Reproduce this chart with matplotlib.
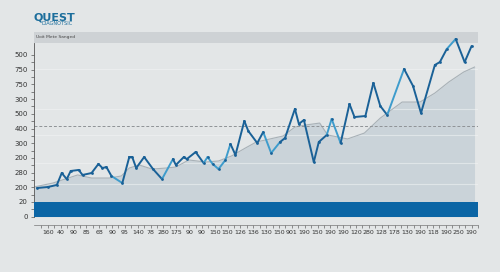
import matplotlib
matplotlib.use("Agg")
import matplotlib.pyplot as plt

# ---------------- data ----------------
x_labels = ["160", "40", "90", "85", "68", "90", "95", "140", "78", "280", "175", "90",
            "90", "150", "150", "126", "136", "130", "150", "901", "190", "150", "190",
            "190", "120", "280", "128", "178", "130", "190", "118", "190", "250", "190"]
y_labels = ["0", "20", "200", "280", "200", "300", "400", "500", "300", "750", "750", "500"]

trend_x = [-1.08, 0.39, 2.32, 3.40, 4.79, 5.72, 6.34, 7.11, 8.11, 9.20, 9.97, 10.97,
           12.29, 13.29, 14.30, 15.38, 16.23, 17.31, 18.32, 19.24, 20.09, 21.17, 21.79,
           23.34, 24.65, 25.89, 27.59, 28.98, 30.14, 31.22, 32.38, 33.23]
trend_y = [2.02, 2.29, 2.84, 2.63, 2.63, 2.77, 3.31, 3.52, 3.24, 3.31, 3.38, 3.86,
           3.72, 3.79, 4.13, 4.67, 5.08, 5.29, 5.49, 6.10, 6.24, 6.37, 5.56,
           5.29, 5.69, 6.71, 7.80, 7.80, 8.41, 9.16, 9.84, 10.18]

series_x = [-0.85, 0.00, 0.70, 1.08, 1.47, 1.78, 2.40, 2.70, 3.40, 3.94, 4.25, 4.56,
            4.95, 5.80, 6.34, 6.57, 6.88, 7.50, 8.19, 8.89, 9.74, 9.97, 10.59, 10.82,
            11.51, 12.13, 12.44, 12.83, 13.29, 13.83, 14.22, 14.61, 15.30, 15.61, 16.31,
            16.77, 17.39, 18.08, 18.47, 19.24, 19.55, 19.94, 20.71, 21.10, 21.72, 22.10,
            22.80, 23.49, 23.88, 24.73, 25.35, 25.89, 26.43, 27.74, 28.44, 29.06, 30.14,
            30.53, 31.07, 31.76, 32.46, 33.00]
series_y = [1.95, 2.02, 2.16, 2.97, 2.56, 3.11, 3.18, 2.84, 2.97, 3.59, 3.31, 3.38,
            2.77, 2.29, 4.06, 4.06, 3.31, 4.06, 3.24, 2.56, 3.92, 3.52, 4.06, 3.92,
            4.40, 3.65, 4.06, 3.59, 3.24, 3.86, 4.95, 4.20, 6.51, 5.83, 5.01,
            5.76, 4.33, 5.08, 5.35, 7.33, 6.31, 6.58, 3.72, 5.08, 5.56, 6.65,
            5.01, 7.67, 6.78, 6.85, 9.10, 7.53, 6.92, 10.05, 8.89, 7.05, 10.32,
            10.52, 11.41, 12.09, 10.52, 11.61]
# segments (start index) drawn in the lighter blue
light_segments = [12, 19, 25, 26, 27, 28, 29, 35, 36, 44, 45, 52, 58]

grid_levels = [2.20, 3.63, 5.54, 7.33, 10.03]
ref_level = 6.15
band_top = 1.0

# ---------------- style ----------------
BG = "#e3e6e7"
FILL = "#cad3d9"
TREND = "#a8b1b7"
DARK = "#1a6197"
LIGHT = "#3e9ccc"
BAND = "#0b65a5"
HEADER = "#ced2d5"

fig = plt.figure(figsize=(5.0, 2.72), dpi=100, facecolor=BG)
ax = fig.add_axes([34 / 500, 1 - 216.7 / 272, 444 / 500, (216.7 - 32.3) / 272])
ax.set_facecolor(BG)

top = (216.7 - 32.3) / 14.7
plot_top = (216.7 - 42.7) / 14.7
ax.set_xlim(-1.08, 33.23)
ax.set_ylim(0, top)

# area under trend
ax.fill_between(trend_x, trend_y, 0, color=FILL, zorder=1, linewidth=0)
ax.plot(trend_x, trend_y, color=TREND, lw=0.8, zorder=2)

# grid lines
for g in grid_levels:
    ax.axhline(g, color="#f2f4f5", lw=0.8, alpha=0.55, zorder=1.5)
ax.axhline(ref_level, color="#8f9396", lw=0.7, ls=(0, (3, 2)), zorder=2)

# bottom band
ax.axhspan(0, band_top, color=BAND, zorder=3, lw=0)

# header band
ax.axhspan(plot_top, top, color=HEADER, zorder=1, lw=0)
ax.text(-0.95, (plot_top + top) / 2, "Uoit Mete Sanged", fontsize=3.2,
        color="#444444", va="center", ha="left", zorder=4)

# main series
for i in range(len(series_x) - 1):
    c = LIGHT if i in light_segments else DARK
    ax.plot(series_x[i:i + 2], series_y[i:i + 2], color=c, lw=1.4,
            solid_capstyle="round", zorder=5)
ax.scatter(series_x, series_y, s=4, color=DARK, zorder=6, linewidths=0)

# axes
for s in ["top", "right"]:
    ax.spines[s].set_visible(False)
ax.spines["left"].set_bounds(0, plot_top)
ax.spines["left"].set_color("#555555")
ax.spines["left"].set_linewidth(0.6)
ax.spines["bottom"].set_position(("outward", 6))
ax.spines["bottom"].set_color("#777777")
ax.spines["bottom"].set_linewidth(0.5)

ax.set_yticks(range(len(y_labels)))
ax.set_yticklabels(y_labels, fontsize=5, color="#333333")
ax.set_yticks([i + 0.5 for i in range(len(y_labels) - 1)], minor=True)
ax.tick_params(axis="y", which="both", length=2.5, width=0.5, color="#555555", pad=2)

ax.set_xticks(range(len(x_labels)))
ax.set_xticklabels(x_labels, fontsize=4.5, color="#333333")
ax.set_xticks([i + 0.5 for i in range(-1, len(x_labels))], minor=True)
ax.tick_params(axis="x", which="both", length=1.8, width=0.5, color="#666666", pad=2)

# logo
fig.text(33 / 500, 1 - 17 / 272, "QUEST", fontsize=8, fontweight="bold",
         color="#1c6e9c", va="center", ha="left")
fig.text(41 / 500, 1 - 23.5 / 272, "DIAGNOTSIC", fontsize=3.6, color="#1c6e9c",
         va="center", ha="left")

fig.savefig("out.png", dpi=100, facecolor=BG)
